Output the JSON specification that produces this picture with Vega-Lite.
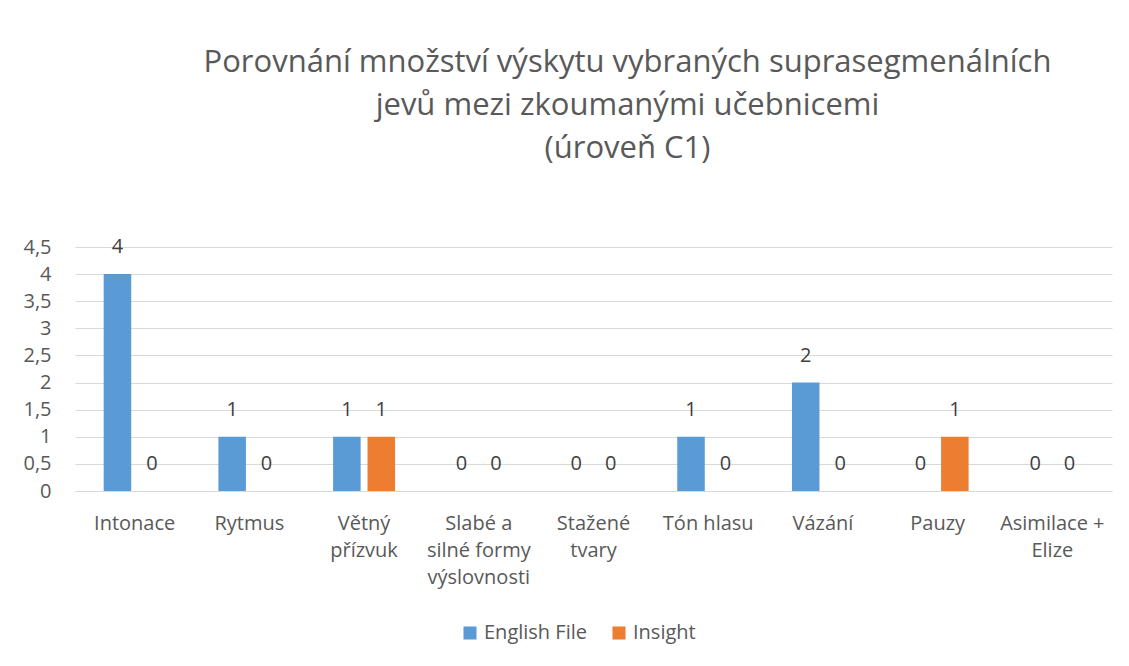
{
  "$schema": "https://vega.github.io/schema/vega-lite/v6.json",
  "width": 1037,
  "height": 244,
  "padding": {"left": 22, "top": 47, "right": 17, "bottom": 10},
  "background": "white",
  "title": {
    "text": ["Porovnání množství výskytu vybraných suprasegmenálních", "jevů mezi zkoumanými učebnicemi", "(úroveň C1)"],
    "font": "Open Sans",
    "fontSize": 31,
    "fontWeight": "normal",
    "color": "#595959",
    "lineHeight": 43,
    "anchor": "middle",
    "dx": 34,
    "offset": 72
  },
  "data": {
    "values": [
      {"jev": "Intonace", "ucebnice": "English File", "pocet": 4},
      {"jev": "Intonace", "ucebnice": "Insight", "pocet": 0},
      {"jev": "Rytmus", "ucebnice": "English File", "pocet": 1},
      {"jev": "Rytmus", "ucebnice": "Insight", "pocet": 0},
      {"jev": "Větný přízvuk", "ucebnice": "English File", "pocet": 1},
      {"jev": "Větný přízvuk", "ucebnice": "Insight", "pocet": 1},
      {"jev": "Slabé a silné formy výslovnosti", "ucebnice": "English File", "pocet": 0},
      {"jev": "Slabé a silné formy výslovnosti", "ucebnice": "Insight", "pocet": 0},
      {"jev": "Stažené tvary", "ucebnice": "English File", "pocet": 0},
      {"jev": "Stažené tvary", "ucebnice": "Insight", "pocet": 0},
      {"jev": "Tón hlasu", "ucebnice": "English File", "pocet": 1},
      {"jev": "Tón hlasu", "ucebnice": "Insight", "pocet": 0},
      {"jev": "Vázání", "ucebnice": "English File", "pocet": 2},
      {"jev": "Vázání", "ucebnice": "Insight", "pocet": 0},
      {"jev": "Pauzy", "ucebnice": "English File", "pocet": 0},
      {"jev": "Pauzy", "ucebnice": "Insight", "pocet": 1},
      {"jev": "Asimilace + Elize", "ucebnice": "English File", "pocet": 0},
      {"jev": "Asimilace + Elize", "ucebnice": "Insight", "pocet": 0}
    ]
  },
  "encoding": {
    "x": {
      "field": "jev",
      "type": "nominal",
      "sort": null,
      "title": null,
      "scale": {"paddingInner": 0.46, "paddingOuter": 0.25},
      "axis": {
        "labelAngle": 0,
        "labelFont": "Open Sans",
        "labelFontSize": 20,
        "labelColor": "#595959",
        "labelLineHeight": 27,
        "labelPadding": 22,
        "ticks": false,
        "domainColor": "#d9d9d9",
        "labelExpr": "datum.value == 'Větný přízvuk' ? ['Větný', 'přízvuk'] : datum.value == 'Slabé a silné formy výslovnosti' ? ['Slabé a', 'silné formy', 'výslovnosti'] : datum.value == 'Stažené tvary' ? ['Stažené', 'tvary'] : datum.value == 'Asimilace + Elize' ? ['Asimilace +', 'Elize'] : datum.value"
      }
    },
    "xOffset": {"field": "ucebnice", "type": "nominal", "scale": {"paddingInner": 0.2, "paddingOuter": 0}},
    "y": {
      "field": "pocet",
      "type": "quantitative",
      "title": null,
      "scale": {"domain": [0, 4.5]},
      "axis": {
        "values": [0, 0.5, 1, 1.5, 2, 2.5, 3, 3.5, 4, 4.5],
        "labelExpr": "replace(format(datum.value, ''), '.', ',')",
        "labelFont": "Open Sans",
        "labelFontSize": 20,
        "labelColor": "#595959",
        "labelPadding": 24,
        "ticks": false,
        "domain": false,
        "gridColor": "#d9d9d9"
      }
    }
  },
  "layer": [
    {
      "mark": {"type": "bar"},
      "encoding": {
        "color": {
          "field": "ucebnice",
          "type": "nominal",
          "scale": {"domain": ["English File", "Insight"], "range": ["#5b9bd5", "#ed7d31"]},
          "legend": {
            "title": null,
            "orient": "none",
            "direction": "horizontal",
            "legendX": 385,
            "legendY": 376,
            "symbolType": "square",
            "symbolSize": 170,
            "symbolStrokeWidth": 0,
            "labelFont": "Open Sans",
            "labelFontSize": 20,
            "labelColor": "#595959",
            "columnPadding": 22
          }
        }
      }
    },
    {
      "mark": {"type": "text", "baseline": "bottom", "dy": -17, "font": "Open Sans", "fontSize": 20, "color": "#404040"},
      "encoding": {"text": {"field": "pocet", "type": "quantitative"}}
    }
  ],
  "config": {"view": {"stroke": null}}
}
